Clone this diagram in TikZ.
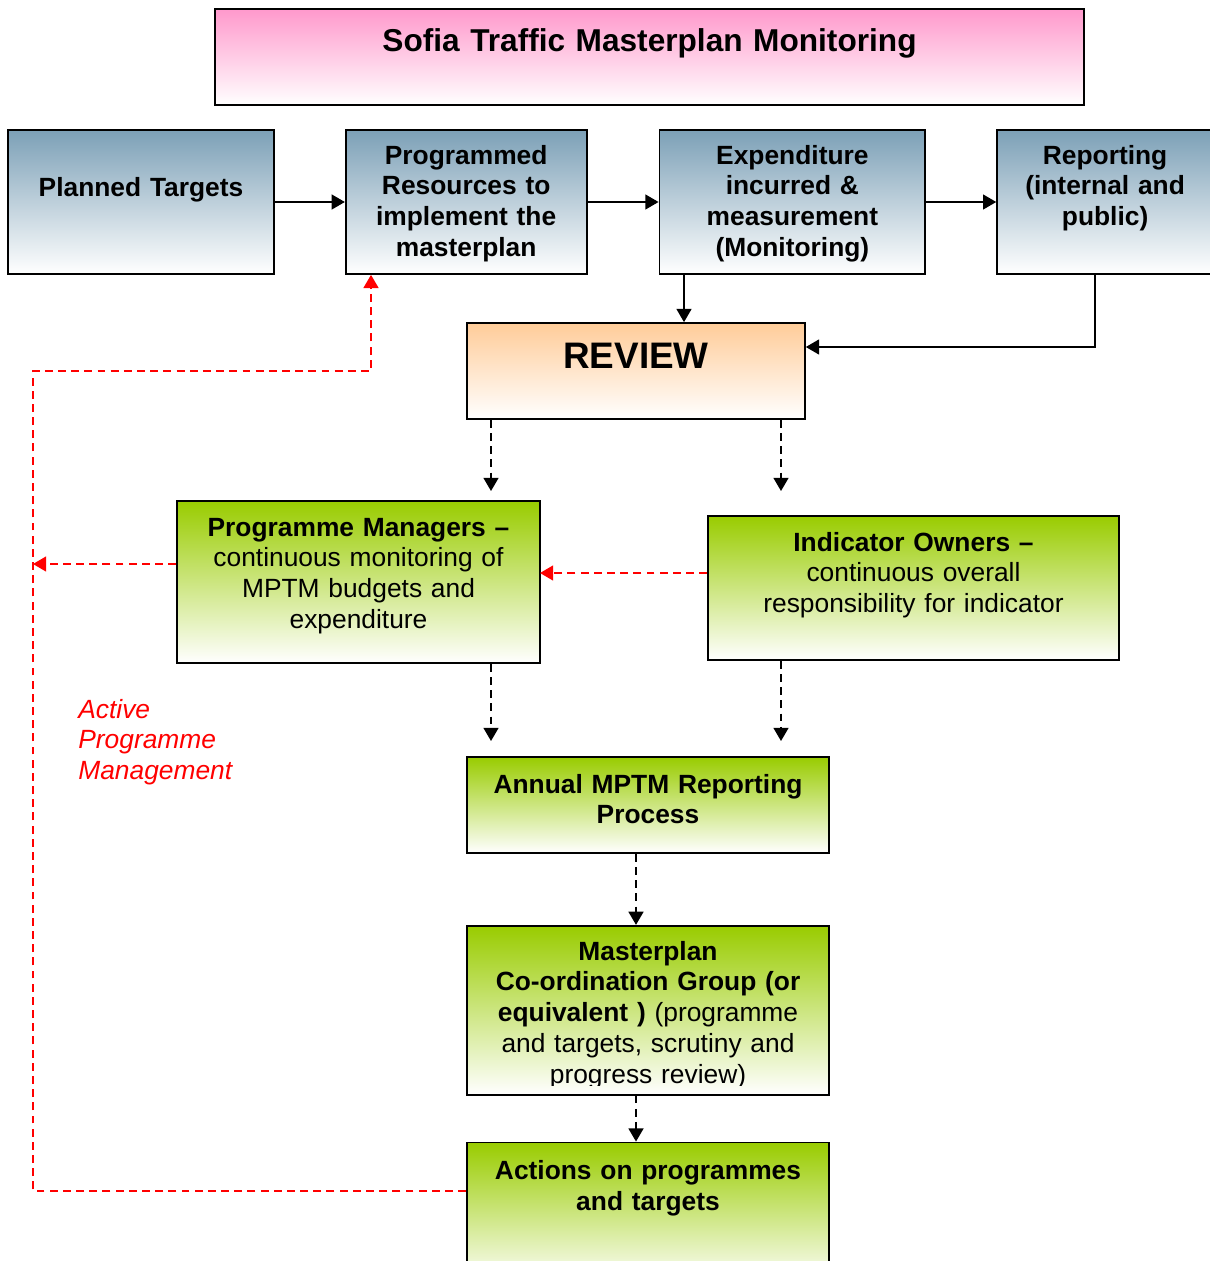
\documentclass[tikz,border=0pt]{standalone}
\usepackage{fontspec}
\setmainfont{Liberation Sans}
\usetikzlibrary{arrows.meta}
\usetikzlibrary{positioning}
\definecolor{steelgrey}{RGB}{124,160,183}
\definecolor{titlepink}{RGB}{255,153,204}
\definecolor{reviewpeach}{RGB}{255,204,153}
\definecolor{leafgreen}{RGB}{153,204,0}
\newcommand{\boxfont}{\fontsize{15}{17.5}\selectfont}
\tikzstyle{block} = [rectangle, draw=black, line width=1pt, inner sep=0pt, align=center,
bottom color=white]
\tikzstyle{blueblock} = [block, top color=steelgrey, font=\boxfont\bfseries]
\tikzstyle{greenblock} = [block, top color=leafgreen, font=\boxfont]
\tikzstyle{arrow} = [thick,->,>={Triangle[length=7.5pt,width=8.5pt]}]
\tikzstyle{dasharrow} = [arrow, line width=1pt, dash pattern=on 4.5pt off 3pt]
\tikzstyle{redarrow} = [dasharrow, red]

\begin{document}
\begin{tikzpicture}[x=0.02cm, y=-0.02cm] % 1 unit = 1 px of the page
  \clip (0,0) rectangle (1210,1261);
  \node (title) [block, top color=titlepink, font=\fontsize{18}{21}\selectfont\bfseries, text width=17.38cm,
    text height=0.84cm, text depth=1.08cm] at (649.5,57) {Sofia Traffic Masterplan Monitoring};
  \node (pt) [blueblock, text width=5.32cm, text height=1.32cm, text depth=1.56cm] at (141,202) {Planned Targets};
  \node (pr) [blueblock, right=1.40cm of pt, text width=4.82cm, text height=0.68cm, text depth=2.2cm]
    {Programmed\\Resources to\\implement the\\masterplan};
  \node (exp) [blueblock, right=1.42cm of pr, text width=5.32cm, text height=0.68cm, text depth=2.2cm]
    {Expenditure\\incurred \&\\measurement\\(Monitoring)};
  \node (rep) [blueblock, right=1.40cm of exp, text width=4.32cm, text height=0.68cm, text depth=2.2cm]
    {Reporting\\(internal and\\public)};
  \draw [arrow] (pt) -- (pr);
  \draw [arrow] (pr) -- (exp);
  \draw [arrow] (exp) -- (rep);
  \node (review) [block, top color=reviewpeach, font=\fontsize{21}{25}\selectfont\bfseries, text width=6.76cm,
    text height=0.9cm, text depth=1.02cm] at (636,371) {REVIEW};
  \coordinate (expdown) at (684,300);
  \coordinate (repdown) at (1095,347);
  \draw [arrow] (exp.south -| expdown) -- (review.north -| expdown);
  \draw [arrow] (rep.south -| repdown) |- (review.east |- repdown);
  \node (pm) [greenblock, text width=7.26cm, text height=0.7cm, text depth=2.54cm] at (358.5,582)
    {\textbf{Programme Managers –}\\continuous monitoring of\\MPTM budgets and\\expenditure};
  \node (io) [greenblock, text width=8.22cm, text height=0.7cm, text depth=2.18cm] at (913.5,588)
    {\textbf{Indicator Owners –}\\continuous overall\\responsibility for indicator};
  \node (annual) [greenblock, font=\boxfont\bfseries, text width=7.24cm, text height=0.72cm, text depth=1.2cm]
    at (648,805) {Annual MPTM Reporting\\Process};
  \node (mcg) [greenblock, below=1.42cm of annual, text width=7.24cm, text height=0.7cm, text depth=2.68cm] {};
  \begin{scope}
    \clip (mcg.north west) rectangle ([yshift=0.2cm]mcg.south east);
    \node (mcgtext) [anchor=north, inner sep=0pt, align=center, font=\boxfont, text width=7.24cm,
      text height=0.7cm] at (mcg.north) {\bfseries Masterplan\\Co-ordination Group (or\\equivalent )
      \mdseries(programme\\and targets, scrutiny and\\progress review)};
  \end{scope}
  \node (act) [greenblock, font=\boxfont\bfseries, below=0.92cm of mcg, text width=7.24cm, text height=0.74cm,
    text depth=2.12cm] {Actions on programmes\\and targets};
  \node (apm) [anchor=base west, inner sep=0pt, align=left, text=red, font=\boxfont\itshape, text width=4cm]
    at (78,718) {Active\\Programme\\Management};
  % dashed flow down the middle
  \coordinate (pmtop) at (491,491);
  \coordinate (iotop) at (781,491);
  \coordinate (anl) at (491,741);
  \coordinate (anr) at (781,741);
  \coordinate (spine) at (636,900);
  \draw [dasharrow] (review.south -| pmtop) -- (pmtop);
  \draw [dasharrow] (review.south -| iotop) -- (iotop);
  \draw [dasharrow] (pm.south -| anl) -- (anl);
  \draw [dasharrow] (io.south -| anr) -- (anr);
  \draw [dasharrow] (annual.south -| spine) -- (mcg.north -| spine);
  \draw [dasharrow] (mcg.south -| spine) -- (act.north -| spine);
  % red feedback loop
  \coordinate (fb1) at (540,573);
  \coordinate (fb2) at (33,564);
  \coordinate (fb3) at (33,1191);
  \coordinate (fb4) at (33,371);
  \coordinate (fb5) at (371,371);
  \draw [redarrow] (io.west |- fb1) -- (fb1);
  \draw [redarrow] (pm.west |- fb2) -- (fb2);
  \draw [redarrow] (act.west |- fb3) -- (fb3) -- (fb4) -- (fb5) -- (pr.south -| fb5);
\end{tikzpicture}
\end{document}
